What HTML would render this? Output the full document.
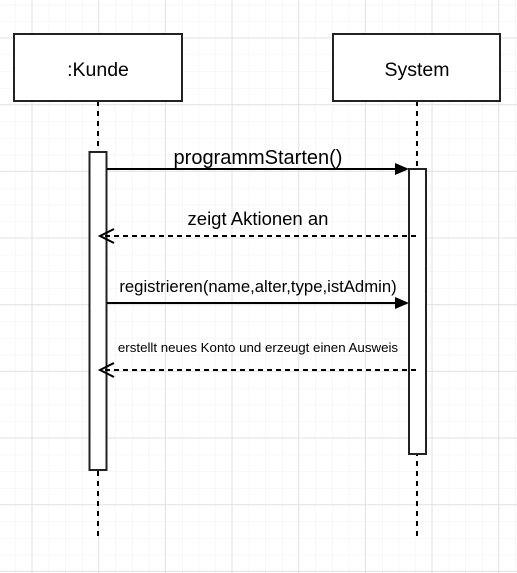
<!DOCTYPE html>
<html><head><style>html,body{margin:0;padding:0;background:#fff;}svg{display:block}</style></head>
<body>
<svg width="517" height="573" xmlns="http://www.w3.org/2000/svg" font-family="Liberation Sans, Arial, sans-serif">
<defs>
<pattern id="minor" x="32" y="38" width="16.67" height="16.67" patternUnits="userSpaceOnUse">
<path d="M0 0H16.67M0 0V16.67" stroke="#f1f1f1" stroke-width="1" fill="none"/>
</pattern>
<pattern id="major" x="31.5" y="37.5" width="66.67" height="66.67" patternUnits="userSpaceOnUse">
<path d="M0 0.5H66.67M0.5 0V66.67" stroke="#e2e2e2" stroke-width="1" fill="none"/>
</pattern>
</defs>
<rect width="517" height="573" fill="#fff"/>
<rect width="517" height="573" fill="url(#minor)"/>
<rect width="517" height="573" fill="url(#major)"/>
<g stroke="#000" stroke-width="2" fill="none">
<line x1="98" y1="101" x2="98" y2="540" stroke-dasharray="5,5"/>
<line x1="417" y1="101" x2="417" y2="540" stroke-dasharray="5,5"/>
</g>
<rect x="14" y="34" width="168" height="67" fill="#fff" stroke="#222" stroke-width="2"/>
<rect x="333" y="34" width="167" height="67" fill="#fff" stroke="#222" stroke-width="2"/>
<text x="98" y="76" font-size="19.5" text-anchor="middle">:Kunde</text>
<text x="417" y="76" font-size="19.5" text-anchor="middle">System</text>
<rect x="89.5" y="152" width="17" height="318" fill="#fff" stroke="#222" stroke-width="2"/>
<rect x="409" y="169" width="17" height="285" fill="#fff" stroke="#222" stroke-width="2"/>
<g stroke="#000" stroke-width="2" fill="none">
<line x1="107" y1="169" x2="395" y2="169"/>
<line x1="416" y1="236" x2="102" y2="236" stroke-dasharray="5,4"/>
<polyline points="114,229 100,236 114,243"/>
<line x1="107" y1="303" x2="395" y2="303"/>
<line x1="416" y1="370" x2="102" y2="370" stroke-dasharray="5,4"/>
<polyline points="114,363 100,370 114,377"/>
</g>
<polygon points="395,163 409,169 395,175" fill="#000"/>
<polygon points="395,297 409,303 395,309" fill="#000"/>
<text x="258" y="164" font-size="20" text-anchor="middle">programmStarten()</text>
<text x="258" y="225" font-size="18.5" text-anchor="middle">zeigt Aktionen an</text>
<text x="258" y="292" font-size="16.7" text-anchor="middle">registrieren(name,alter,type,istAdmin)</text>
<text x="258" y="352" font-size="13.3" text-anchor="middle">erstellt neues Konto und erzeugt einen Ausweis</text>
</svg>
</body></html>
